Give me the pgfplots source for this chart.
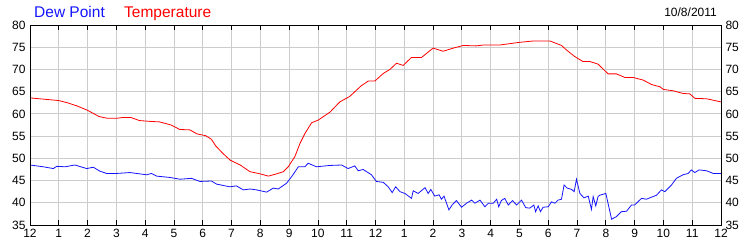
\documentclass[border=0pt]{standalone}
\usepackage{pgfplots}
\pgfplotsset{compat=1.18}
\usetikzlibrary{calc}
\usepackage{fontspec}
\setmainfont{Liberation Sans}
\definecolor{gridc}{RGB}{204,204,204}
\definecolor{dewc}{RGB}{20,20,255}
\definecolor{tempc}{RGB}{255,0,0}
\begin{document}
\begin{tikzpicture}
\pgfplotsset{
  common/.style={
    at={(0pt,0pt)}, anchor=south west, scale only axis,
    width=691pt, height=200pt,
    xmin=0, xmax=24, ymin=35, ymax=80,
    xtick={0,1,...,24},
    ytick={35,40,...,80},
    axis line style={black, line width=0.8pt},
    tick label style={font=\fontsize{12}{14}\selectfont, black},
    /pgf/number format/assume math mode=true,
  }
}
\begin{axis}[common, name=ax,
  xticklabels={12,1,2,3,4,5,6,7,8,9,10,11,12,1,2,3,4,5,6,7,8,9,10,11,12},
  grid=major, major grid style={gridc, line width=0.8pt},
  xtick pos=both, xticklabel pos=bottom, tick align=inside,
  major tick length=5pt,
  xtick style={black, line width=0.8pt},
  ytick style={draw=none},
  yticklabel pos=left,
  xticklabel style={yshift=-1pt},
  yticklabel style={xshift=-1pt},
]
\addplot[tempc, line width=0.8pt] coordinates {
(0,63.6)(0.5,63.3)(1.0,63.0)(1.3,62.5)(1.63,61.8)(2.0,60.8)(2.4,59.4)(2.7,59.0)(3.0,59.0)(3.24,59.2)(3.5,59.2)(3.8,58.5)(4.2,58.3)(4.5,58.2)(4.9,57.5)(5.2,56.5)(5.55,56.4)(5.8,55.5)(6.1,55.1)(6.3,54.3)(6.45,52.8)(6.7,51.1)(6.95,49.6)(7.3,48.5)(7.64,47.0)(8.0,46.5)(8.28,46.0)(8.56,46.5)(8.8,47.0)(8.97,48.1)(9.2,50.4)(9.38,53.4)(9.55,55.6)(9.78,58.0)(10.01,58.6)(10.42,60.4)(10.76,62.7)(11.1,63.9)(11.5,66.3)(11.75,67.4)(11.98,67.4)(12.27,69.1)(12.5,70.0)(12.73,71.4)(12.96,70.9)(13.25,72.7)(13.6,72.7)(13.77,73.6)(14.0,74.8)(14.35,74.1)(14.7,74.8)(15.05,75.4)(15.5,75.3)(15.75,75.5)(16.32,75.5)(17.0,76.1)(17.48,76.4)(18.06,76.4)(18.46,75.4)(18.63,74.4)(18.92,72.9)(19.2,71.8)(19.44,71.8)(19.73,71.2)(20.08,69.0)(20.37,69.0)(20.66,68.2)(20.95,68.2)(21.3,67.6)(21.59,66.6)(21.88,66.1)(22.0,65.5)(22.34,65.2)(22.68,64.6)(22.92,64.5)(23.09,63.5)(23.5,63.4)(24.0,62.7)
};
\addplot[dewc, line width=0.8pt] coordinates {
(0,48.5)(0.46,48.1)(0.81,47.7)(0.93,48.2)(1.22,48.1)(1.56,48.5)(1.97,47.7)(2.2,48.0)(2.43,47.1)(2.66,46.6)(3.01,46.6)(3.47,46.8)(3.82,46.5)(4.05,46.3)(4.22,46.6)(4.4,46.0)(4.86,45.7)(5.21,45.3)(5.61,45.5)(5.9,44.8)(6.3,44.9)(6.48,44.2)(6.94,43.6)(7.17,43.8)(7.41,42.9)(7.64,43.1)(7.87,42.9)(8.22,42.4)(8.45,43.3)(8.62,43.1)(8.91,44.4)(9.09,45.9)(9.32,48.1)(9.55,48.1)(9.66,48.9)(9.95,48.1)(10.42,48.4)(10.82,48.5)(11.05,47.7)(11.28,48.3)(11.4,47.2)(11.57,47.5)(11.86,46.3)(12.03,44.8)(12.27,44.6)(12.44,43.6)(12.58,42.3)(12.7,43.6)(12.85,42.5)(13.02,42.1)(13.25,41.0)(13.31,42.7)(13.48,42.1)(13.72,43.4)(13.83,42.1)(13.92,43.0)(14.06,41.5)(14.21,41.8)(14.29,40.8)(14.38,41.5)(14.55,38.4)(14.66,39.5)(14.81,40.5)(14.99,39.0)(15.16,39.9)(15.34,40.6)(15.45,39.9)(15.63,40.6)(15.8,39.1)(15.92,39.9)(16.09,39.9)(16.21,40.8)(16.28,39.1)(16.37,40.5)(16.49,41.0)(16.61,39.5)(16.76,40.5)(16.9,39.5)(17.07,40.6)(17.22,38.9)(17.36,38.8)(17.5,39.5)(17.56,38.0)(17.65,39.3)(17.73,38.0)(17.82,39.0)(18.0,39.1)(18.11,40.2)(18.23,39.9)(18.34,40.6)(18.46,40.8)(18.55,44.0)(18.66,43.3)(18.81,43.0)(18.9,42.5)(18.98,45.3)(19.1,42.1)(19.24,41.1)(19.39,41.5)(19.5,38.5)(19.56,41.4)(19.65,39.3)(19.73,41.4)(19.79,41.7)(20.0,42.1)(20.2,36.3)(20.37,36.9)(20.54,38.0)(20.72,38.1)(20.89,39.5)(21.0,39.5)(21.24,41.0)(21.41,40.8)(21.64,41.4)(21.76,41.7)(21.93,42.9)(22.05,42.5)(22.28,44.0)(22.45,45.5)(22.68,46.3)(22.86,46.6)(22.97,47.4)(23.09,46.8)(23.24,47.4)(23.5,47.2)(23.73,46.6)(24.0,46.6)
};
\end{axis}
\begin{axis}[common,
  xticklabels={}, xtick style={draw=none},
  ytick style={draw=none},
  yticklabel pos=right,
  yticklabel style={xshift=1pt},
]
\end{axis}
\coordinate (O) at ($(ax.south west)+(-30pt,-25pt)$);
\node[anchor=base west, inner sep=0, font=\fontsize{15.5}{18}\selectfont, text=dewc] at ($(O)+(34pt,233pt)$) {Dew Point};
\node[anchor=base west, inner sep=0, font=\fontsize{15.5}{18}\selectfont, text=tempc] at ($(O)+(124pt,233pt)$) {Temperature};
\node[anchor=base east, inner sep=0, font=\fontsize{12}{14}\selectfont, text=black] at ($(O)+(717pt,233.5pt)$) {10/8/2011};
\pgfresetboundingbox
\path[use as bounding box] (O) rectangle ($(O)+(750pt,250pt)$);
\end{tikzpicture}
\end{document}
